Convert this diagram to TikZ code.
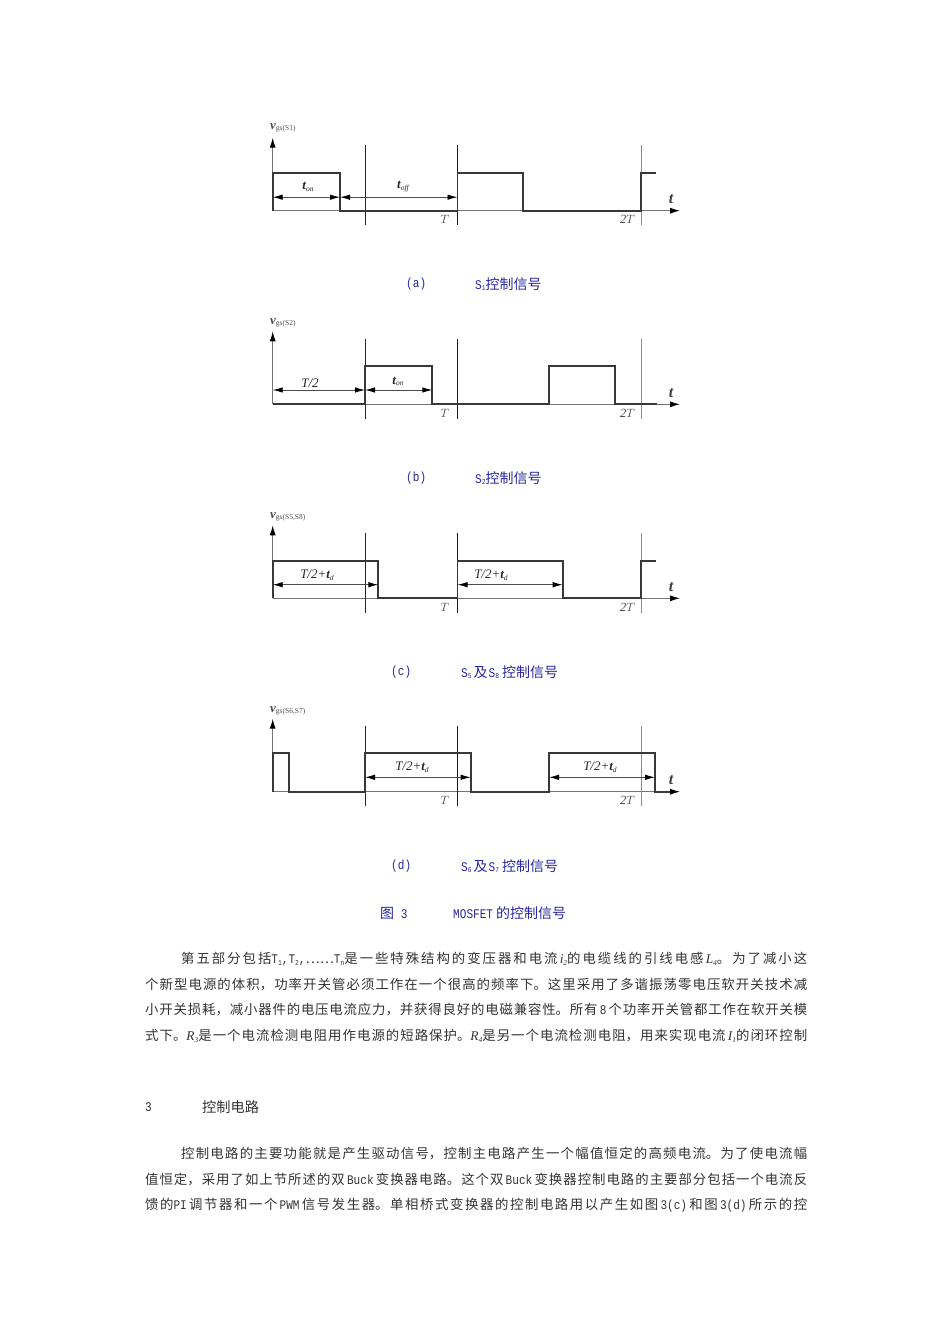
\documentclass[tikz,border=0pt]{standalone}
\usepackage{fontspec}
\setmainfont{Noto Sans CJK SC}
\newfontfamily\monofont[FakeStretch=0.84]{Liberation Mono}
\newfontfamily\serifont{Liberation Serif}
\XeTeXlinebreaklocale "zh"
\XeTeXlinebreakskip=0pt plus 1pt
\usetikzlibrary{arrows.meta,positioning,calc}
\newcommand{\sbs}[1]{\raisebox{-1.5pt}{\fontsize{7.5}{7.5}\selectfont #1}}
\newcommand{\lat}[1]{{\monofont\fontsize{13.2}{13}\selectfont #1}}
\newcommand{\ivar}[2]{{\serifont\itshape #1\sbs{#2}}}
% axes and the three period lines of one panel
\newcommand{\panelaxes}{
  \coordinate (O) at (272.7,0);
  \coordinate (X) at (680,0);
  \coordinate (Y) at (272.7,-73);
  \draw[axisline] (O) -- (X);
  \draw[axisline] (O) -- (Y);
  \foreach \gx/\gc in {365/black!85,457.5/black!90,641/black!45}
    \draw[guide,draw=\gc] (\gx,-65.7) -- (\gx,14.5);
  \node[marklabel] (tickT) at (445,9) {$T$};
  \node[marklabel] (tickTT) at (627.5,9) {2$T$};
  \node[marklabel,font=\serifont\bfseries\itshape\fontsize{16}{16}\selectfont] (axisT) at (671,-11.5) {t};
}
\begin{document}
\begin{tikzpicture}
      [x=1pt,y=-1pt,inner sep=0pt,
       axisline/.style={line width=1pt,draw=black!55,-{Latex[length=10pt,width=6pt,black]}},
       wave/.style={line width=1.7pt,draw=black!78},
       guide/.style={line width=1pt},
       span/.style={line width=0.9pt,draw=black!70,{Latex[length=10pt,width=5.5pt,black]}-{Latex[length=10pt,width=5.5pt,black]}},
       marklabel/.style={font=\serifont\itshape\fontsize{12.5}{12.5}\selectfont,text=black!75},
       spanlabel/.style={font=\serifont\itshape\fontsize{13}{13}\selectfont,text=black!85},
       siglabel/.style={anchor=west,font=\serifont\fontsize{8}{8}\selectfont,text=black!70},
       caption/.style={anchor=west,font=\fontsize{14}{14}\selectfont,text=blue!55!black!85},
       bodytext/.style={anchor=north west,text width=662pt,align=justify,font=\fontsize{13.4}{25.7}\selectfont,text=black!80}]
  \useasboundingbox (0,0) rectangle (950,1344);

  % panel (a)
  \begin{scope}[shift={(0,210.7)}]
    \panelaxes
    \draw[wave] (O) -- (272.7,-38) -- (340,-38) -- (340,0) -- (457.5,0) -- (457.5,-38)
      -- (523,-38) -- (523,0) -- (641,0) -- (641,-38) -- (656,-38);
    \draw[span] (272.7,-13.5) -- (340,-13.5);
    \draw[span] (340,-13.5) -- (457.5,-13.5);
    \node[spanlabel] (onA) at (308,-24) {\textbf{t}\sbs{on}};
    \node[spanlabel] (offA) at (403,-24) {\textbf{t}\sbs{off}};
    \node[siglabel] (sigA) at (270,-83) {{\bfseries\itshape\fontsize{13}{13}\selectfont v}\sbs{gs(S1)}};
  \end{scope}

  % panel (b)
  \begin{scope}[shift={(0,404.3)}]
    \panelaxes
    \draw[wave] (O) -- (365,0) -- (365,-38) -- (432.3,-38) -- (432.3,0) -- (549,0)
      -- (549,-38) -- (615,-38) -- (615,0) -- (657,0);
    \draw[span] (272.7,-14.3) -- (365,-14.3);
    \draw[span] (365,-14.3) -- (432.3,-14.3);
    \node[spanlabel] (halfB) at (310,-21) {T/2};
    \node[spanlabel] (onB) at (398,-23) {\textbf{t}\sbs{on}};
    \node[siglabel] (sigB) at (270,-81.5) {{\bfseries\itshape\fontsize{13}{13}\selectfont v}\sbs{gs(S2)}};
  \end{scope}

  % panel (c)
  \begin{scope}[shift={(0,598.3)}]
    \panelaxes
    \draw[wave] (O) -- (272.7,-37.6) -- (378.3,-37.6) -- (378.3,0) -- (457.5,0) -- (457.5,-37.6)
      -- (562.7,-37.6) -- (562.7,0) -- (641,0) -- (641,-37.6) -- (656,-37.6);
    \draw[span] (272.7,-13.6) -- (378.3,-13.6);
    \draw[span] (457.5,-13.6) -- (562.7,-13.6);
    \node[spanlabel] (spanC) at (317,-23) {T/2+\textbf{t}\sbs{d}};
    \node[spanlabel] (spanCC) at (491,-23) {T/2+\textbf{t}\sbs{d}};
    \node[siglabel] (sigC) at (270,-81.5) {{\bfseries\itshape\fontsize{13}{13}\selectfont v}\sbs{gs(S5,S8)}};
  \end{scope}

  % panel (d)
  \begin{scope}[shift={(0,791.7)}]
    \panelaxes
    \draw[wave] (O) -- (272.7,-38.4) -- (289,-38.4) -- (289,0) -- (365,0) -- (365,-38.4)
      -- (470.7,-38.4) -- (470.7,0) -- (549,0) -- (549,-38.4) -- (655,-38.4) -- (655,0) -- (670,0);
    \draw[span] (365,-14.4) -- (470.7,-14.4);
    \draw[span] (549,-14.4) -- (655,-14.4);
    \node[spanlabel] (spanD) at (412,-24.5) {T/2+\textbf{t}\sbs{d}};
    \node[spanlabel] (spanDD) at (600,-24.5) {T/2+\textbf{t}\sbs{d}};
    \node[siglabel] (sigD) at (270,-81) {{\bfseries\itshape\fontsize{13}{13}\selectfont v}\sbs{gs(S6,S7)}};
  \end{scope}

  % captions
  \node[caption] (capA) at (406,284) {\lat{(a)}};
  \node[caption] (capAA) at (475,284) {\lat{S\sbs{1}}控制信号};
  \node[caption] (capB) at (406,478) {\lat{(b)}};
  \node[caption] (capBB) at (475,478) {\lat{S\sbs{2}}控制信号};
  \node[caption] (capC) at (391,672) {\lat{(c)}};
  \node[caption] (capCC) at (461,672) {\lat{S\sbs{5}}\hspace{2pt}及\hspace{1pt}\lat{S\sbs{8}}\hspace{3pt}控制信号};
  \node[caption] (capD) at (391,866) {\lat{(d)}};
  \node[caption] (capDD) at (461,866) {\lat{S\sbs{6}}\hspace{2pt}及\hspace{1pt}\lat{S\sbs{7}}\hspace{3pt}控制信号};
  \node[caption] (figcap) at (380,913) {图\lat{ 3}};
  \node[caption] (figcapp) at (453,913) {\lat{MOSFET}\hspace{3pt}的控制信号};

  % body
  \node[bodytext] (parA) at (145,952) {\hspace*{36pt}第五部分包括\lat{T\sbs{1},T\sbs{2},}……\lat{T\sbs{n}}是一些特殊结构的变压器和电流\,\ivar{i}{2}的电缆线的引线电感\,\ivar{L}{4}。为了减小这\linebreak
    个新型电源的体积，功率开关管必须工作在一个很高的频率下。这里采用了多谐振荡零电压软开关技术减\linebreak
    小开关损耗，减小器件的电压电流应力，并获得良好的电磁兼容性。所有\,\lat{8}\,个功率开关管都工作在软开关模\linebreak
    式下。\ivar{R}{3}是一个电流检测电阻用作电源的短路保护。\ivar{R}{4}是另一个电流检测电阻，用来实现电流\,\ivar{I}{1}的闭环控制\linebreak\par};
  \node[anchor=west,font=\fontsize{13}{13}\selectfont,text=black!80] (secnum) at (145,1107) {\lat{3}};
  \node[anchor=west,font=\fontsize{14.2}{14.2}\selectfont,text=black!80] (sectitle) at (202,1107) {控制电路};
  \node[bodytext] (parB) at (145,1147) {\hspace*{36pt}控制电路的主要功能就是产生驱动信号，控制主电路产生一个幅值恒定的高频电流。为了使电流幅\linebreak
    值恒定，采用了如上节所述的双\,\lat{Buck}\,变换器电路。这个双\,\lat{Buck}\,变换器控制电路的主要部分包括一个电流反\linebreak
    馈的\lat{PI}\,调节器和一个\,\lat{PWM}\,信号发生器。单相桥式变换器的控制电路用以产生如图\,\lat{3(c)}\,和图\,\lat{3(d)}\,所示的控\linebreak\par};
\end{tikzpicture}
\end{document}
